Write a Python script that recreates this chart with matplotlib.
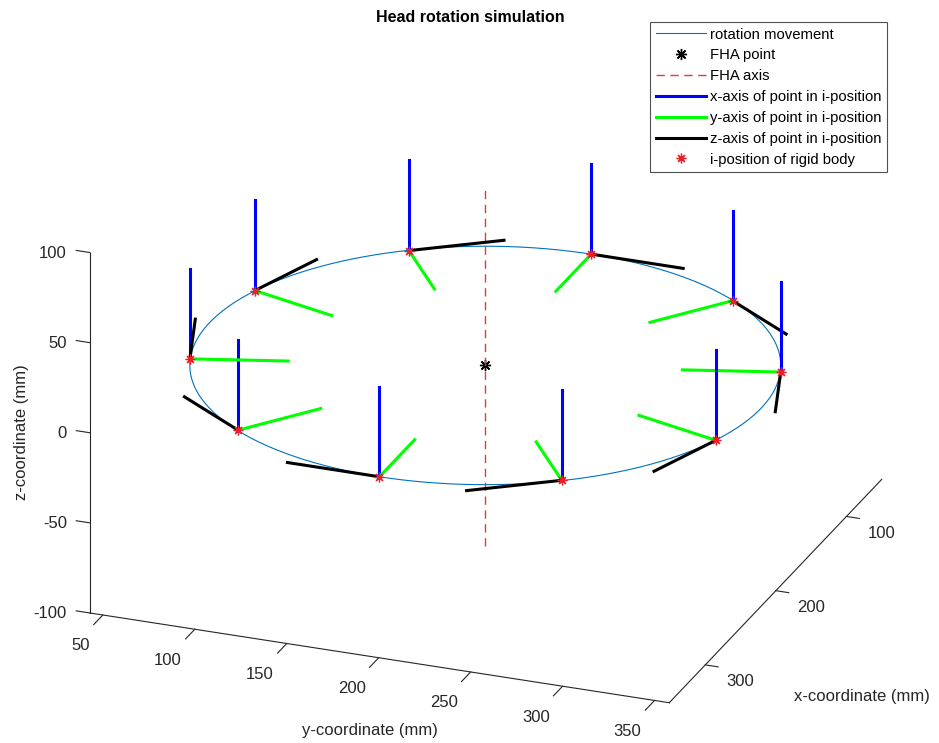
import numpy as np
import matplotlib
matplotlib.use('Agg')
import matplotlib.pyplot as plt
from matplotlib.transforms import IdentityTransform
from mpl_toolkits.mplot3d import proj3d

plt.rcParams['font.family'] = ['Liberation Sans', 'DejaVu Sans']

# i-positions of the rigid body (mm)
pos_x = [350, 321, 246, 154, 79, 50, 79, 154, 246, 321]
pos_y = [200, 112, 57, 57, 112, 200, 288, 343, 343, 288]
pos_z = [0, 0, 0, 0, 0, 0, 0, 0, 0, 0]

# FHA point / axis and the rotation circle
fha_point = [200, 200, 0]
fha_axis_z = [-100, 100]
radius = 150
axis_len = 50

x_lim = (50, 351)
y_lim = (43, 358)
z_lim = (-100, 100)
x_ticks = [100, 200, 300]
y_ticks = [50, 100, 150, 200, 250, 300, 350]
z_ticks = [-100, -50, 0, 50, 100]

W, H = 939, 743
AX_COL = '#262626'
fig = plt.figure(figsize=(W / 100, H / 100), dpi=100)
ax = fig.add_axes([0, 0, 1, 1], projection='3d')
ax.set_proj_type('ortho')
ax.view_init(elev=23.8, azim=21)

# rotation movement
t = np.linspace(0, 2 * np.pi, 300)
ax.plot(fha_point[0] + radius * np.cos(t), fha_point[1] + radius * np.sin(t),
        np.full_like(t, fha_point[2]), color='#0072BD', lw=0.8,
        label='rotation movement')
ax.plot([fha_point[0]], [fha_point[1]], [fha_point[2]], ls='none',
        marker=(8, 2, 0), color='k', ms=8, mew=1, label='FHA point')
ax.plot([fha_point[0]] * 2, [fha_point[1]] * 2, fha_axis_z, color='#e03a3a',
        ls=(0, (6, 4)), lw=1, label='FHA axis')

center = np.array(fha_point, dtype=float)
for i in range(len(pos_x)):
    p = np.array([pos_x[i], pos_y[i], pos_z[i]], dtype=float)
    ex = np.array([0, 0, 1.0])
    ey = (center - p) / np.linalg.norm(center - p)
    ez = np.cross(ex, ey)
    for v, c, name in [(ex, '#0000ff', 'x-axis of point in i-position'),
                       (ey, '#00ff00', 'y-axis of point in i-position'),
                       (ez, 'k', 'z-axis of point in i-position')]:
        q = p + axis_len * v
        ax.plot([p[0], q[0]], [p[1], q[1]], [p[2], q[2]], color=c, lw=2.2,
                label=name if i == 0 else None)
ax.plot(pos_x, pos_y, pos_z, ls='none', marker=(8, 2, 0), color='#e8202a',
        ms=7, mew=0.9, label='i-position of rigid body')

# matlab style ticks, pointing out of the box
for zt in z_ticks:
    ax.plot([x_lim[1]] * 2, [y_lim[0], y_lim[0] - 7.5], [zt, zt], color=AX_COL, lw=0.8)
for yt in y_ticks:
    ax.plot([x_lim[1], x_lim[1] + 13], [yt, yt], [z_lim[0]] * 2, color=AX_COL, lw=0.8)
for xt in x_ticks:
    ax.plot([xt, xt], [y_lim[1], y_lim[1] + 7], [z_lim[0]] * 2, color=AX_COL, lw=0.8)

ax.set_xlim(*x_lim)
ax.set_ylim(*y_lim)
ax.set_zlim(*z_lim)
ax.set_box_aspect((x_lim[1] - x_lim[0], y_lim[1] - y_lim[0], z_lim[1] - z_lim[0]))
ax.set_xticks([])
ax.set_yticks([])
ax.set_zticks([])
ax.grid(False)
for a in (ax.xaxis, ax.yaxis, ax.zaxis):
    a.set_pane_color((1, 1, 1, 0))
    a.pane.set_edgecolor((1, 1, 1, 0))
    a.line.set_color(AX_COL)
    a.line.set_linewidth(0.8)


def to_px(x, y, z):
    xs, ys, _ = proj3d.proj_transform(x, y, z, ax.get_proj())
    return ax.transData.transform((xs, ys))


# place the projected box where it sits in the reference (pixels, image coords)
targets = {(x_lim[1], y_lim[0], z_lim[0]): (90, 613),
           (x_lim[0], y_lim[1], z_lim[0]): (882, 481)}
for _ in range(3):
    fig.canvas.draw()
    bb = ax.get_position()
    side0 = bb.width * W
    c0 = np.array([(bb.x0 + bb.width / 2) * W, (bb.y0 + bb.height / 2) * H])
    qs, ps = [], []
    for (px, py, pz), (tx, ty) in targets.items():
        qs.append((to_px(px, py, pz) - c0) / side0)
        ps.append(np.array([tx, H - ty], dtype=float))
    side = np.linalg.norm(ps[0] - ps[1]) / np.linalg.norm(qs[0] - qs[1])
    c = ps[0] - side * qs[0]
    ax.set_position([(c[0] - side / 2) / W, (c[1] - side / 2) / H, side / W, side / H])
fig.canvas.draw()

# tick labels, offset in pixels from the tick base
for zt in z_ticks:
    bx, by = to_px(x_lim[1], y_lim[0], zt)
    fig.text(bx - 23, by - 1, str(zt), transform=IdentityTransform(), ha='right',
             va='center', fontsize=12, color=AX_COL)
for yt in y_ticks:
    bx, by = to_px(x_lim[1], yt, z_lim[0])
    fig.text(bx - 13, by - 31, str(yt), transform=IdentityTransform(), ha='right',
             va='center', fontsize=12, color=AX_COL)
for xt in x_ticks:
    bx, by = to_px(xt, y_lim[1], z_lim[0])
    fig.text(bx + 21, by - 17, str(xt), transform=IdentityTransform(), ha='left',
             va='center', fontsize=12, color=AX_COL)

fig.text(470 / W, 1 - 17 / H, 'Head rotation simulation', ha='center', va='center',
         fontsize=11.5, fontweight='bold')
fig.text(22 / W, 1 - 432 / H, 'z-coordinate (mm)', ha='center', va='center',
         rotation=90, fontsize=12, color=AX_COL)
fig.text(370 / W, 1 - 730 / H, 'y-coordinate (mm)', ha='center', va='center',
         fontsize=12, color=AX_COL)
fig.text(862 / W, 1 - 697 / H, 'x-coordinate (mm)', ha='center', va='center',
         fontsize=12, color=AX_COL)

leg = fig.legend(loc='upper left', bbox_to_anchor=(650 / W, 1 - 22 / H),
                 fontsize=10.7, frameon=True, fancybox=False, edgecolor=AX_COL,
                 handlelength=3.36, handletextpad=0.27, borderpad=0.38, labelspacing=0.46,
                 borderaxespad=0)
leg.get_frame().set_linewidth(0.8)

fig.savefig('out.png', dpi=100)
